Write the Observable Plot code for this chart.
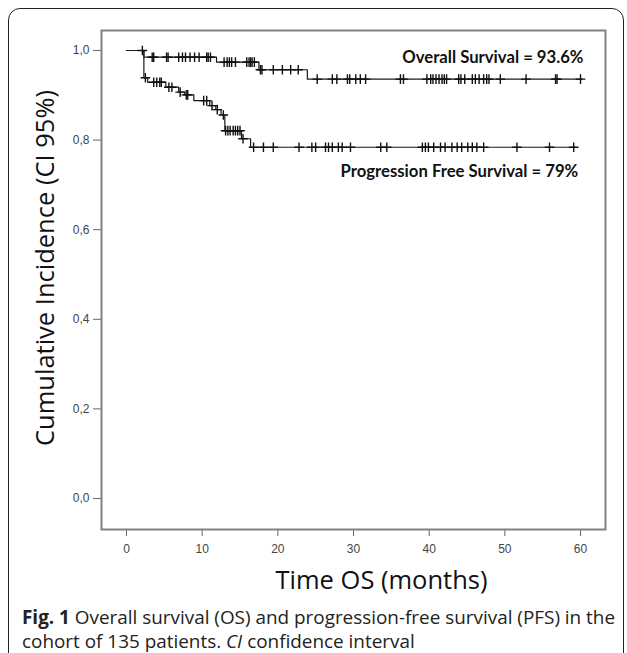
<!DOCTYPE html>
<html>
<head>
<meta charset="utf-8">
<script src="https://cdn.jsdelivr.net/npm/d3@7"></script>
<script src="https://cdn.jsdelivr.net/npm/@observablehq/plot@0.6"></script>
<style>
  html, body { margin: 0; padding: 0; background: #fff; }
  #wrap { position: relative; width: 627px; height: 653px; overflow: hidden; background: #fff; }
  #card { position: absolute; left: 8px; top: 8px; width: 616px; height: 660px; border: 1.5px solid #222; border-radius: 12px; box-sizing: border-box; }
  #chart { position: absolute; left: 0; top: 0; }
  #caption { position: absolute; left: 22px; top: 605px; width: 602px; font-family: "Open Sans", sans-serif; font-size: 18.9px; line-height: 24px; color: #222; white-space: nowrap; }
</style>
</head>
<body>
<div id="wrap">
  <div id="card"></div>
  <div id="chart"></div>
  <div id="caption"><b>Fig. 1</b> Overall survival (OS) and progression-free survival (PFS) in the<br>cohort of 135 patients. <i>CI</i> confidence interval</div>
</div>
<script>
// Overall survival step function (time in months, survival)
const osTime = [0, 2.3, 11.9, 17.5, 23.9, 60.2];
const osSurv = [1.0, 0.985, 0.974, 0.957, 0.936, 0.936];
const osCensor = [2.1, 3.4, 3.6, 5.3, 5.5, 6.9, 7.4, 7.8, 8.4, 9.0, 9.6, 10.6, 10.8, 11.1,
  12.9, 13.3, 13.6, 13.9, 14.4, 15.9, 16.2, 16.4, 16.6, 16.9,
  17.7, 17.9, 19.4, 20.6, 21.7, 22.7,
  25.2, 27.2, 27.8, 29.2, 29.5, 30.3, 30.9, 31.6, 36.2, 36.6, 39.7, 40.2, 40.5, 40.9, 41.3, 41.7, 42.0, 42.3,
  43.9, 44.2, 44.7, 45.7, 46.1, 46.6, 47.2, 47.6, 47.9, 49.4, 52.8, 56.7, 56.9, 60.0];

// Progression free survival step function
const pfsTime = [0, 2.3, 2.8, 5.2, 6.9, 7.7, 8.9, 11.0, 11.8, 12.5, 13.0, 15.2, 16.4, 59.3];
const pfsSurv = [1.0, 0.939, 0.929, 0.918, 0.907, 0.901, 0.888, 0.877, 0.868, 0.856, 0.821, 0.803, 0.784, 0.784];
const pfsCensor = [2.5, 3.6, 4.0, 4.4, 4.6, 5.6, 6.0, 7.1, 7.9, 8.1, 10.2, 10.6, 11.3, 12.0, 12.8,
  13.1, 13.4, 13.7, 14.1, 14.4, 14.7, 15.0, 15.4,
  16.8, 18.1, 19.4, 22.8, 24.5, 25.0, 26.3, 26.7, 27.2, 28.0, 28.5, 29.6, 33.6, 34.4,
  39.1, 39.5, 39.9, 40.6, 41.5, 42.1, 43.0, 43.7, 44.3, 45.1, 45.7, 46.3, 47.2, 51.6, 55.9, 59.1];

const xTicks = [0, 10, 20, 30, 40, 50, 60];
const yTicks = [0.0, 0.2, 0.4, 0.6, 0.8, 1.0];

const labels = [
  {text: "Overall Survival = 93.6%", t: 60.4, s: 0.984},
  {text: "Progression Free Survival = 79%", t: 59.7, s: 0.730}
];
const xLabel = "Time OS (months)";
const yLabel = "Cumulative Incidence (CI 95%)";

const steps = (T, S) => T.map((t, i) => ({t, s: S[i]}));
const at = (T, S) => (t) => { const i = d3.bisectRight(T, t) - 1; return S[Math.max(0, i)]; };
const osF = at(osTime, osSurv), pfsF = at(pfsTime, pfsSurv);
const osC = osCensor.map(t => ({t, s: osF(t)}));
const pfsC = pfsCensor.map(t => ({t, s: pfsF(t)}));
const comma = d => d3.format(".1f")(d).replace(".", ",");

const chart = Plot.plot({
  width: 627, height: 600,
  marginLeft: 101, marginRight: 22, marginTop: 30, marginBottom: 71,
  style: {fontFamily: "'Liberation Sans', Arial, sans-serif", background: "transparent"},
  x: {domain: [-3.3, 63.3]},
  y: {domain: [-0.0692, 1.0446]},
  marks: [
    Plot.axisX({ticks: xTicks, tickSize: 7, tickPadding: 8, fontSize: 12, stroke: "#666", color: "#444", label: null}),
    Plot.axisY({ticks: yTicks, tickSize: 8, tickPadding: 4, fontSize: 12, stroke: "#666", color: "#444", tickFormat: comma, label: null}),
    Plot.frame({stroke: "#808080", strokeWidth: 2}),
    Plot.line(steps(osTime, osSurv), {x: "t", y: "s", curve: "step-after", stroke: "#1a1a1a", strokeWidth: 1.2}),
    Plot.line(steps(pfsTime, pfsSurv), {x: "t", y: "s", curve: "step-after", stroke: "#1a1a1a", strokeWidth: 1.2}),
    Plot.dot(osC, {x: "t", y: "s", symbol: "plus", r: 3.2, stroke: "#111", strokeWidth: 1.4}),
    Plot.dot(pfsC, {x: "t", y: "s", symbol: "plus", r: 3.2, stroke: "#111", strokeWidth: 1.4}),
    Plot.text(labels, {x: "t", y: "s", text: "text", textAnchor: "end", fontWeight: "bold", fontSize: 16.7, fontFamily: "Lato, sans-serif", fill: "#111"}),
    Plot.text([xLabel], {text: d => d, frameAnchor: "bottom", textAnchor: "middle", dy: 59, dx: 28, fontSize: 25.5, fontFamily: "'Open Sans', sans-serif", fill: "#111"}),
    Plot.text([yLabel], {text: d => d, frameAnchor: "left", textAnchor: "middle", rotate: -90, dx: -56, dy: -12, fontSize: 25.5, fontFamily: "'Open Sans', sans-serif", fill: "#111"})
  ]
});
document.getElementById("chart").appendChild(chart);
</script>
</body>
</html>
